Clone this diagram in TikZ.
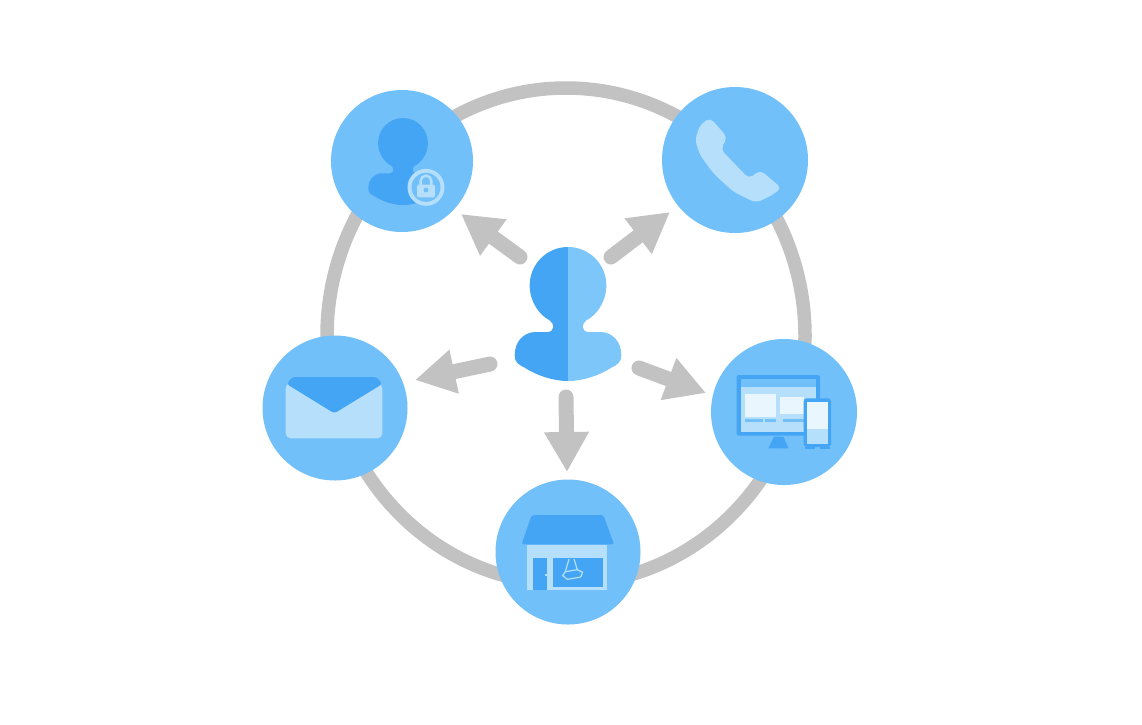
\documentclass[tikz,border=0pt]{standalone}
\usetikzlibrary{arrows.meta}
\definecolor{discblue}{HTML}{72C0F9}
\definecolor{darkblue}{HTML}{45A5F5}
\definecolor{midblue}{HTML}{7CC6FA}
\definecolor{paleblue}{HTML}{B5DFFA}
\definecolor{ringgray}{HTML}{C2C2C2}
\definecolor{softwhite}{HTML}{EAF6FE}
\newcommand{\halfperson}{(0,0) .. controls (-65,0) and (-115,53) .. (-115,115)
  .. controls (-115,165) and (-85,205) .. (-55,220)
  .. controls (-40,230) and (-40,253) .. (-60,255) -- (-100,255)
  .. controls (-135,257) and (-160,285) .. (-160,325)
  .. controls (-160,345) and (-150,352) .. (-130,362)
  .. controls (-95,385) and (-45,402) .. (0,402) -- cycle}
\tikzset{
  x=1pt,y=-1pt,
  disc/.style={circle,fill=discblue,draw=none,inner sep=0pt},
  flow/.style={draw=ringgray,line width=15pt,line cap=round,
    -{Triangle[length=40pt,width=42pt,fill=ringgray]}},
  zoomed/.style={x=0.33333pt,y=-0.33333pt}
}
\begin{document}
\begin{tikzpicture}
\useasboundingbox (0,0) rectangle (1142,724);
\fill[white] (0,0) rectangle (1142,724);
% ring
\coordinate (ringc) at (566,336);
\draw[ringgray,line width=13.5pt] (ringc) ellipse [x radius=239pt,y radius=248pt];
% discs
\node[disc,minimum size=142pt] (lockd) at (402,161) {};
\node[disc,minimum size=146pt] (phoned) at (735,160) {};
\node[disc,minimum size=145pt] (maild) at (335,408) {};
\node[disc,minimum size=146pt] (screend) at (784,412) {};
\node[disc,minimum size=145pt] (stored) at (568,552) {};
% arrows
\coordinate (s1) at (520,257); \coordinate (e1) at (461,214);
\coordinate (s2) at (611,257); \coordinate (e2) at (670,212);
\coordinate (s3) at (490,364); \coordinate (e3) at (415,380);
\coordinate (s4) at (639,368); \coordinate (e4) at (706,393);
\coordinate (s5) at (566,397); \coordinate (e5) at (567,472);
\draw[flow] (s1) -- (e1);
\draw[flow] (s2) -- (e2);
\draw[flow] (s3) -- (e3);
\draw[flow] (s4) -- (e4);
\draw[flow] (s5) -- (e5);
% central person
\begin{scope}[shift={(568,247)},x=0.33333pt,y=-0.33333pt]
  \fill[darkblue] \halfperson;
\end{scope}
\begin{scope}[shift={(568,247)},x=-0.33333pt,y=-0.33333pt]
  \fill[midblue] \halfperson;
\end{scope}
% locked person
\begin{scope}[shift={(403,118)},x=0.2167pt,y=-0.2167pt]
  \fill[darkblue] \halfperson;
\end{scope}
\begin{scope}[shift={(403,118)},x=-0.2167pt,y=-0.2167pt]
  \fill[darkblue] \halfperson;
\end{scope}
\begin{scope}[shift={(320,80)},zoomed]
  \fill[paleblue] (318,322) circle (18.5pt);
  \fill[discblue] (318,322) circle (14.5pt);
  \draw[paleblue,line width=2.4pt] (302,318) -- (302,303) arc[start angle=180,end angle=360,x radius=16,y radius=16] -- (334,318);
  \fill[paleblue,rounded corners=1.5pt] (291,314) rectangle (345,352);
  \fill[discblue] (318,330) circle (2.4pt);
\end{scope}
% phone
\begin{scope}[shift={(655,80)},zoomed]
  \fill[paleblue,rounded corners=5pt] (190,141) -- (217,172) -- (197,208)
    -- (282,296) -- (316,270) -- (380,325) -- (340,352) -- (302,368)
    -- (235,335) -- (175,280) -- (135,225) -- (120,180) -- (135,135) -- (165,113) -- cycle;
\end{scope}
% mail
\begin{scope}[shift={(255,330)},zoomed]
  \fill[paleblue,rounded corners=5pt] (92,160) rectangle (382,325);
  \fill[darkblue,rounded corners=3pt] (95,162) -- (112,141) -- (365,141) -- (382,162) -- (238,250) -- cycle;
\end{scope}
% screens
\begin{scope}[shift={(700,335)},zoomed]
  \fill[darkblue] (205,340) -- (222,305) -- (250,305) -- (266,340) -- cycle;
  \fill[darkblue,rounded corners=2pt] (110,120) rectangle (360,302);
  \fill[paleblue] (122,132) rectangle (348,291);
  \fill[discblue] (122,132) rectangle (348,155);
  \fill[softwhite] (135,178) rectangle (228,245);
  \fill[softwhite] (240,185) rectangle (312,238);
  \fill[discblue] (135,252) rectangle (190,262);
  \fill[discblue] (195,252) rectangle (228,262);
  \fill[discblue] (250,252) rectangle (312,262);
  \fill[darkblue,rounded corners=3pt] (311,190) rectangle (393,336);
  \fill[softwhite] (320,200) rectangle (384,282);
  \fill[paleblue] (320,282) rectangle (384,326);
  \fill[darkblue] (315,336) rectangle (345,343);
  \fill[darkblue] (360,336) rectangle (390,343);
\end{scope}
% store
\begin{scope}[shift={(490,475)},zoomed]
  \fill[paleblue] (112,210) rectangle (352,346);
  \fill[darkblue,rounded corners=2pt] (125,120) -- (340,120) -- (372,208) -- (95,208) -- cycle;
  \fill[darkblue] (130,248) rectangle (172,346);
  \fill[darkblue] (188,250) rectangle (338,335);
  \fill[paleblue] (165,296) rectangle (172,304);
  \draw[paleblue,line width=1.2pt,line join=round] (237,252) -- (226,290) -- (218,302) -- (232,313) -- (272,306) -- (278,292) -- (262,284) -- (252,252);
  \draw[paleblue,line width=1.2pt] (226,290) -- (262,284);
\end{scope}
\end{tikzpicture}
\end{document}
